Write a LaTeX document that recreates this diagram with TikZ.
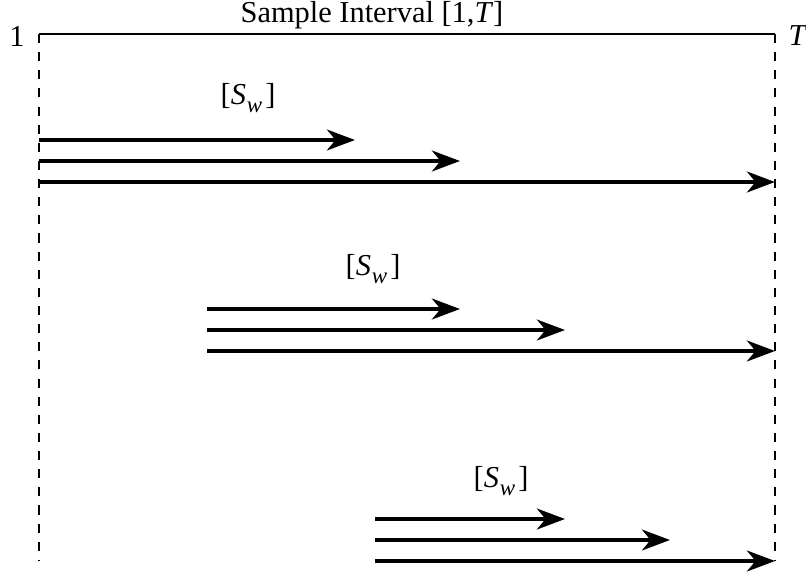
\documentclass[tikz,border=0pt]{standalone}
\usepackage{fontspec}
\setmainfont{Liberation Serif}
\usetikzlibrary{arrows.meta}
\newcommand{\swlabel}{[\textit{S}\kern0.3pt\raisebox{-0.25em}{\fontsize{8.6}{9}\selectfont\textit{w}}\kern1.2pt]}
\begin{document}
\begin{tikzpicture}[x=0.375pt,y=-0.375pt,
  bound/.style={line width=0.45pt,dash pattern=on 3.4pt off 3.4pt},
  interval/.style={line width=0.45pt},
  win/.style={line width=1.55pt,-{Stealth[length=10.5pt,width=7.8pt,inset=3.2pt]}},
  lbl/.style={inner sep=0pt,font=\fontsize{11.4}{13}\selectfont}]
\useasboundingbox (0,0) rectangle (806,578);
% interval frame
\coordinate (L0) at (39,34);
\coordinate (R0) at (775,34);
\coordinate (L1) at (39,560);
\coordinate (R1) at (775,560);
\draw[interval] (L0) -- (R0);
\draw[bound] (L0) -- (L1);
\draw[bound] (R0) -- (R1);
\node[lbl] (one) at (17,36) {1};
\node[lbl] (tee) at (798,36) {\textit{T}};
\node[lbl] (title) at (372,15) {Sample Interval [1,\textit{T}]};
% group 1
\coordinate (a1) at (39,140); \coordinate (a1e) at (355,140);
\coordinate (a2) at (39,161); \coordinate (a2e) at (460,161);
\coordinate (a3) at (39,182); \coordinate (a3e) at (775,182);
\draw[win] (a1) -- (a1e);
\draw[win] (a2) -- (a2e);
\draw[win] (a3) -- (a3e);
\node[lbl] (s1) at (248,98) {\swlabel};
% group 2
\coordinate (b1) at (207,309); \coordinate (b1e) at (460,309);
\coordinate (b2) at (207,330); \coordinate (b2e) at (565,330);
\coordinate (b3) at (207,351); \coordinate (b3e) at (775,351);
\draw[win] (b1) -- (b1e);
\draw[win] (b2) -- (b2e);
\draw[win] (b3) -- (b3e);
\node[lbl] (s2) at (373,269) {\swlabel};
% group 3
\coordinate (c1) at (375,519); \coordinate (c1e) at (565,519);
\coordinate (c2) at (375,540); \coordinate (c2e) at (670,540);
\coordinate (c3) at (375,561); \coordinate (c3e) at (775,561);
\draw[win] (c1) -- (c1e);
\draw[win] (c2) -- (c2e);
\draw[win] (c3) -- (c3e);
\node[lbl] (s3) at (501,481) {\swlabel};
\end{tikzpicture}
\end{document}
